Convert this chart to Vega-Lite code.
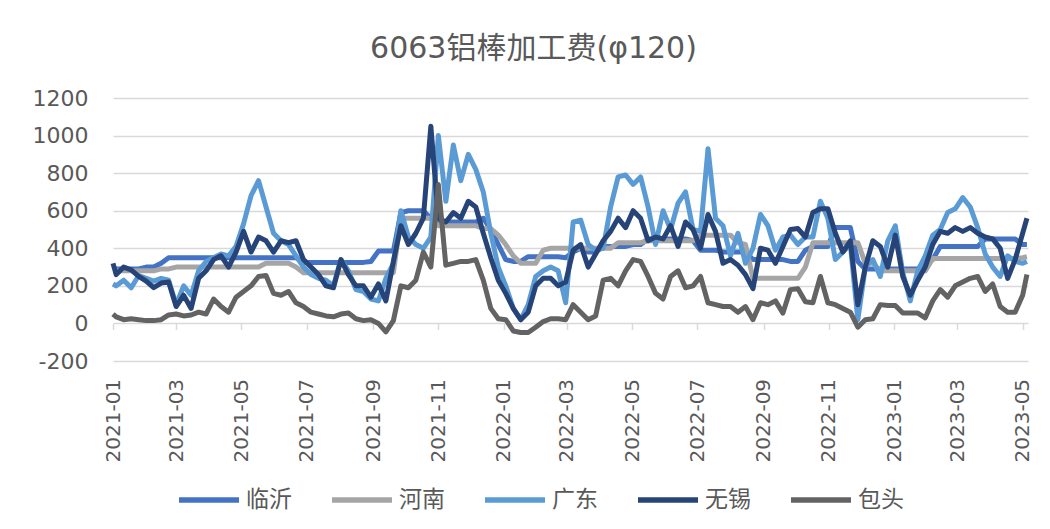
{
 "$schema": "https://vega.github.io/schema/vega-lite/v6.json",
 "width": 915, "height": 263,
 "autosize": {"type": "none"},
 "padding": {"left": 113, "top": 98, "right": 22, "bottom": 168},
 "background": "white",
 "title": {"text": "6063铝棒加工费(φ120)", "fontSize": 30, "font": "'DejaVu Sans', 'Noto Sans CJK SC'", "fontWeight": "normal", "color": "#595959", "offset": 23, "anchor": "middle", "dx": -37},
 "data": {"values": [
  {"d":"2021-01-01","临沂":290,"河南":280,"广东":210,"无锡":320,"包头":50},
  {"d":"2021-01-04","临沂":290,"河南":280,"广东":200,"无锡":260,"包头":35},
  {"d":"2021-01-11","临沂":290,"河南":280,"广东":230,"无锡":300,"包头":20},
  {"d":"2021-01-18","临沂":290,"河南":280,"广东":190,"无锡":285,"包头":25},
  {"d":"2021-01-25","临沂":290,"河南":280,"广东":255,"无锡":250,"包头":20},
  {"d":"2021-02-01","临沂":300,"河南":280,"广东":240,"无锡":225,"包头":15},
  {"d":"2021-02-08","临沂":300,"河南":280,"广东":225,"无锡":190,"包头":15},
  {"d":"2021-02-15","临沂":320,"河南":290,"广东":240,"无锡":215,"包头":20},
  {"d":"2021-02-22","临沂":350,"河南":290,"广东":230,"无锡":220,"包头":45},
  {"d":"2021-03-01","临沂":350,"河南":300,"广东":100,"无锡":90,"包头":50},
  {"d":"2021-03-08","临沂":350,"河南":300,"广东":200,"无锡":150,"包头":40},
  {"d":"2021-03-15","临沂":350,"河南":300,"广东":150,"无锡":80,"包头":45},
  {"d":"2021-03-22","临沂":350,"河南":300,"广东":280,"无锡":240,"包头":60},
  {"d":"2021-03-29","临沂":350,"河南":300,"广东":330,"无锡":280,"包头":50},
  {"d":"2021-04-05","临沂":350,"河南":300,"广东":350,"无锡":340,"包头":130},
  {"d":"2021-04-12","临沂":350,"河南":300,"广东":370,"无锡":360,"包头":90},
  {"d":"2021-04-19","临沂":350,"河南":300,"广东":360,"无锡":300,"包头":60},
  {"d":"2021-04-26","临沂":350,"河南":300,"广东":410,"无锡":380,"包头":140},
  {"d":"2021-05-03","临沂":350,"河南":300,"广东":530,"无锡":490,"包头":170},
  {"d":"2021-05-10","临沂":350,"河南":300,"广东":680,"无锡":380,"包头":200},
  {"d":"2021-05-17","临沂":350,"河南":300,"广东":760,"无锡":460,"包头":250},
  {"d":"2021-05-24","临沂":350,"河南":320,"广东":620,"无锡":440,"包头":255},
  {"d":"2021-05-31","临沂":350,"河南":320,"广东":480,"无锡":380,"包头":160},
  {"d":"2021-06-07","临沂":350,"河南":320,"广东":440,"无锡":440,"包头":150},
  {"d":"2021-06-14","临沂":350,"河南":320,"广东":420,"无锡":430,"包头":170},
  {"d":"2021-06-21","临沂":350,"河南":300,"广东":360,"无锡":440,"包头":110},
  {"d":"2021-06-28","临沂":325,"河南":270,"广东":300,"无锡":340,"包头":90},
  {"d":"2021-07-05","临沂":325,"河南":270,"广东":260,"无锡":300,"包头":60},
  {"d":"2021-07-12","临沂":325,"河南":270,"广东":240,"无锡":260,"包头":50},
  {"d":"2021-07-19","临沂":325,"河南":270,"广东":230,"无锡":200,"包头":40},
  {"d":"2021-07-26","临沂":325,"河南":270,"广东":200,"无锡":190,"包头":35},
  {"d":"2021-08-02","临沂":325,"河南":270,"广东":340,"无锡":340,"包头":50},
  {"d":"2021-08-09","临沂":325,"河南":270,"广东":280,"无锡":260,"包头":55},
  {"d":"2021-08-16","临沂":325,"河南":270,"广东":180,"无锡":200,"包头":25},
  {"d":"2021-08-23","临沂":325,"河南":270,"广东":170,"无锡":200,"包头":15},
  {"d":"2021-08-30","临沂":330,"河南":270,"广东":130,"无锡":140,"包头":20},
  {"d":"2021-09-06","临沂":385,"河南":270,"广东":120,"无锡":210,"包头":0},
  {"d":"2021-09-13","临沂":385,"河南":270,"广东":240,"无锡":120,"包头":-45},
  {"d":"2021-09-20","临沂":385,"河南":270,"广东":320,"无锡":330,"包头":15},
  {"d":"2021-09-27","临沂":590,"河南":560,"广东":600,"无锡":520,"包头":200},
  {"d":"2021-10-04","临沂":600,"河南":560,"广东":460,"无锡":420,"包头":190},
  {"d":"2021-10-11","临沂":600,"河南":560,"广东":420,"无锡":480,"包头":230},
  {"d":"2021-10-18","临沂":600,"河南":560,"广东":400,"无锡":560,"包头":380},
  {"d":"2021-10-25","临沂":560,"河南":560,"广东":460,"无锡":1050,"包头":300},
  {"d":"2021-11-01","临沂":540,"河南":520,"广东":1000,"无锡":560,"包头":740},
  {"d":"2021-11-08","临沂":540,"河南":520,"广东":650,"无锡":540,"包头":310},
  {"d":"2021-11-15","临沂":540,"河南":520,"广东":950,"无锡":590,"包头":320},
  {"d":"2021-11-22","临沂":540,"河南":520,"广东":760,"无锡":560,"包头":330},
  {"d":"2021-11-29","临沂":540,"河南":520,"广东":900,"无锡":650,"包头":330},
  {"d":"2021-12-06","临沂":540,"河南":520,"广东":820,"无锡":620,"包头":340},
  {"d":"2021-12-13","临沂":560,"河南":505,"广东":700,"无锡":480,"包头":230},
  {"d":"2021-12-20","临沂":500,"河南":505,"广东":480,"无锡":350,"包头":80},
  {"d":"2021-12-27","临沂":420,"河南":470,"广东":300,"无锡":230,"包头":25},
  {"d":"2022-01-03","临沂":340,"河南":420,"广东":200,"无锡":160,"包头":20},
  {"d":"2022-01-10","临沂":330,"河南":360,"广东":80,"无锡":80,"包头":-40},
  {"d":"2022-01-17","临沂":330,"河南":320,"广东":20,"无锡":20,"包头":-48},
  {"d":"2022-01-24","临沂":355,"河南":320,"广东":100,"无锡":60,"包头":-48},
  {"d":"2022-01-31","临沂":355,"河南":320,"广东":250,"无锡":200,"包头":-20},
  {"d":"2022-02-07","临沂":355,"河南":390,"广东":280,"无锡":240,"包头":10},
  {"d":"2022-02-14","临沂":355,"河南":400,"广东":300,"无锡":240,"包头":25},
  {"d":"2022-02-21","临沂":355,"河南":400,"广东":280,"无锡":200,"包头":25},
  {"d":"2022-02-28","临沂":350,"河南":400,"广东":110,"无锡":220,"包头":20},
  {"d":"2022-03-07","临沂":380,"河南":400,"广东":540,"无锡":390,"包头":100},
  {"d":"2022-03-14","临沂":400,"河南":400,"广东":550,"无锡":420,"包头":60},
  {"d":"2022-03-21","临沂":380,"河南":400,"广东":420,"无锡":300,"包头":20},
  {"d":"2022-03-28","临沂":380,"河南":400,"广东":390,"无锡":370,"包头":40},
  {"d":"2022-04-04","临沂":410,"河南":400,"广东":400,"无锡":440,"包头":230},
  {"d":"2022-04-11","临沂":410,"河南":400,"广东":620,"无锡":490,"包头":240},
  {"d":"2022-04-18","临沂":410,"河南":430,"广东":780,"无锡":560,"包头":200},
  {"d":"2022-04-25","临沂":410,"河南":430,"广东":790,"无锡":510,"包头":280},
  {"d":"2022-05-02","临沂":420,"河南":430,"广东":740,"无锡":600,"包头":340},
  {"d":"2022-05-09","临沂":420,"河南":430,"广东":780,"无锡":560,"包头":330},
  {"d":"2022-05-16","临沂":450,"河南":440,"广东":620,"无锡":440,"包头":250},
  {"d":"2022-05-23","临沂":450,"河南":440,"广东":420,"无锡":460,"包头":160},
  {"d":"2022-05-30","临沂":450,"河南":440,"广东":600,"无锡":450,"包头":130},
  {"d":"2022-06-06","临沂":450,"河南":440,"广东":500,"无锡":520,"包头":250},
  {"d":"2022-06-13","临沂":450,"河南":440,"广东":640,"无锡":410,"包头":280},
  {"d":"2022-06-20","临沂":450,"河南":440,"广东":700,"无锡":540,"包头":190},
  {"d":"2022-06-27","临沂":440,"河南":440,"广东":500,"无锡":500,"包头":200},
  {"d":"2022-07-04","临沂":390,"河南":470,"广东":490,"无锡":400,"包头":250},
  {"d":"2022-07-11","临沂":390,"河南":470,"广东":930,"无锡":580,"包头":110},
  {"d":"2022-07-18","临沂":390,"河南":470,"广东":560,"无锡":490,"包头":100},
  {"d":"2022-07-25","临沂":380,"河南":470,"广东":520,"无锡":320,"包头":90},
  {"d":"2022-08-01","临沂":380,"河南":470,"广东":360,"无锡":340,"包头":90},
  {"d":"2022-08-08","临沂":380,"河南":430,"广东":480,"无锡":310,"包头":60},
  {"d":"2022-08-15","临沂":380,"河南":420,"广东":320,"无锡":260,"包头":90},
  {"d":"2022-08-22","临沂":340,"河南":240,"广东":400,"无锡":185,"包头":20},
  {"d":"2022-08-29","临沂":340,"河南":240,"广东":580,"无锡":400,"包头":110},
  {"d":"2022-09-05","临沂":340,"河南":240,"广东":520,"无锡":390,"包头":100},
  {"d":"2022-09-12","临沂":340,"河南":240,"广东":390,"无锡":320,"包头":120},
  {"d":"2022-09-19","临沂":340,"河南":240,"广东":460,"无锡":410,"包头":55},
  {"d":"2022-09-26","临沂":330,"河南":240,"广东":470,"无锡":500,"包头":180},
  {"d":"2022-10-03","临沂":330,"河南":240,"广东":420,"无锡":505,"包头":185},
  {"d":"2022-10-10","临沂":390,"河南":300,"广东":460,"无锡":460,"包头":115},
  {"d":"2022-10-17","临沂":410,"河南":430,"广东":460,"无锡":590,"包头":110},
  {"d":"2022-10-24","临沂":410,"河南":430,"广东":650,"无锡":610,"包头":250},
  {"d":"2022-10-31","临沂":410,"河南":430,"广东":560,"无锡":610,"包头":110},
  {"d":"2022-11-07","临沂":510,"河南":430,"广东":340,"无锡":480,"包头":100},
  {"d":"2022-11-14","临沂":510,"河南":430,"广东":380,"无锡":380,"包头":80},
  {"d":"2022-11-21","临沂":510,"河南":430,"广东":420,"无锡":440,"包头":60},
  {"d":"2022-11-28","临沂":330,"河南":430,"广东":20,"无锡":100,"包头":-20},
  {"d":"2022-12-05","临沂":290,"河南":320,"广东":300,"无锡":300,"包头":20},
  {"d":"2022-12-12","临沂":290,"河南":320,"广东":340,"无锡":440,"包头":25},
  {"d":"2022-12-19","临沂":290,"河南":280,"广东":250,"无锡":410,"包头":100},
  {"d":"2022-12-26","临沂":290,"河南":280,"广东":440,"无锡":300,"包头":95},
  {"d":"2023-01-02","临沂":290,"河南":280,"广东":520,"无锡":470,"包头":95},
  {"d":"2023-01-09","临沂":290,"河南":280,"广东":270,"无锡":250,"包头":55},
  {"d":"2023-01-16","临沂":290,"河南":280,"广东":120,"无锡":150,"包头":55},
  {"d":"2023-01-23","临沂":290,"河南":280,"广东":280,"无锡":230,"包头":55},
  {"d":"2023-01-30","临沂":330,"河南":280,"广东":360,"无锡":300,"包头":30},
  {"d":"2023-02-06","临沂":340,"河南":345,"广东":470,"无锡":420,"包头":120},
  {"d":"2023-02-13","临沂":410,"河南":345,"广东":500,"无锡":490,"包头":180},
  {"d":"2023-02-20","临沂":410,"河南":345,"广东":590,"无锡":480,"包头":140},
  {"d":"2023-02-27","临沂":410,"河南":345,"广东":610,"无锡":510,"包头":200},
  {"d":"2023-03-06","临沂":410,"河南":345,"广东":670,"无锡":490,"包头":220},
  {"d":"2023-03-13","临沂":410,"河南":345,"广东":620,"无锡":510,"包头":240},
  {"d":"2023-03-20","临沂":410,"河南":345,"广东":510,"无锡":480,"包头":250},
  {"d":"2023-03-27","临沂":450,"河南":345,"广东":370,"无锡":460,"包头":170},
  {"d":"2023-04-03","临沂":450,"河南":345,"广东":300,"无锡":450,"包头":210},
  {"d":"2023-04-10","临沂":450,"河南":345,"广东":250,"无锡":400,"包头":90},
  {"d":"2023-04-17","临沂":450,"河南":345,"广东":360,"无锡":240,"包头":60},
  {"d":"2023-04-24","临沂":450,"河南":345,"广东":330,"无锡":340,"包头":60},
  {"d":"2023-05-01","临沂":420,"河南":350,"广东":320,"无锡":480,"包头":150},
  {"d":"2023-05-05","临沂":420,"河南":355,"广东":330,"无锡":560,"包头":260}
 ]},
 "transform": [{"fold": ["临沂","河南","广东","无锡","包头"], "as": ["城市","值"]}],
 "mark": {"type": "line", "strokeWidth": 5, "strokeJoin": "round"},
 "encoding": {
  "x": {"field": "d", "type": "temporal",
        "scale": {"domain": [{"year":2021,"month":1,"date":1},{"year":2023,"month":5,"date":6}]},
        "axis": {"title": null, "format": "%Y-%m", "tickCount": {"interval":"month","step":2}, "labelAngle": -90,
                 "labelFont": "DejaVu Sans", "labelFontSize": 20, "labelColor": "#595959",
                 "grid": false, "domain": false, "ticks": true, "tickColor": "#D9D9D9", "tickSize": 6, "tickWidth": 1.5,
                 "offset": -37.6, "labelPadding": 49, "labelOverlap": false, "labelFlush": false}},
  "y": {"field": "值", "type": "quantitative", "scale": {"domain": [-200, 1200]},
        "axis": {"title": null, "values": [-200,0,200,400,600,800,1000,1200], "labelExpr": "'' + datum.value",
                 "labelFont": "DejaVu Sans", "labelFontSize": 22, "labelColor": "#595959",
                 "grid": true, "gridColor": "#D9D9D9", "gridWidth": 1.5, "domain": false, "ticks": false, "labelPadding": 25}},
  "color": {"field": "城市", "type": "nominal",
            "scale": {"domain": ["临沂","河南","广东","无锡","包头"], "range": ["#4472C4","#A5A5A5","#5B9BD5","#264478","#636363"]},
            "legend": {"title": null, "orient": "none", "legendX": 63, "legendY": 369, "direction": "horizontal",
                       "symbolType": "stroke", "symbolSize": 3600, "symbolStrokeWidth": 5.5,
                       "labelFont": "Noto Sans CJK SC", "labelFontSize": 23, "labelColor": "#595959",
                       "labelOffset": 4, "columnPadding": 29}}
 },
 "config": {"view": {"stroke": null}}
}
